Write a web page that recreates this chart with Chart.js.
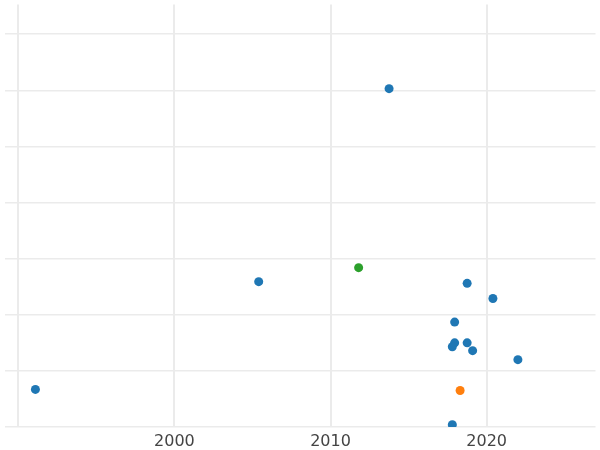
<!DOCTYPE html>
<html>
<head>
<script src="https://cdn.jsdelivr.net/npm/chart.js@4"></script>
<style>html,body{margin:0;padding:0;background:#fff}#wrap{width:600px;height:450px}</style>
</head>
<body>
<div id="wrap"><canvas id="c"></canvas></div>
<script>
const blueX = [2013.75, 2005.4, 2018.75, 2020.4, 2017.95, 2017.95, 2017.8, 2018.75, 2019.1, 2022.0, 1991.1, 2017.8];
const blueY = [6.03, 2.59, 2.56, 2.29, 1.87, 1.50, 1.43, 1.50, 1.36, 1.20, 0.67, 0.04];
const orangeX = [2018.3];
const orangeY = [0.65];
const greenX = [2011.8];
const greenY = [2.84];
const xTicks = [1990, 2000, 2010, 2020];
const yTicks = [0, 1, 2, 3, 4, 5, 6, 7];

const pts = (xs, ys) => xs.map((x, i) => ({x: x, y: ys[i]}));

new Chart(document.getElementById('c').getContext('2d'), {
    type: 'scatter',
    data: {
        datasets: [
            {data: pts(blueX, blueY), backgroundColor: '#1f77b4', borderColor: '#1f77b4'},
            {data: pts(orangeX, orangeY), backgroundColor: '#ff7f0e', borderColor: '#ff7f0e'},
            {data: pts(greenX, greenY), backgroundColor: '#2ca02c', borderColor: '#2ca02c'}
        ]
    },
    options: {
        responsive: true,
        maintainAspectRatio: false,
        animation: false,
        layout: {padding: {left: -5, right: -5, top: -5, bottom: 0}},
        elements: {point: {radius: 4.5, borderWidth: 0}},
        plugins: {legend: {display: false}, tooltip: {enabled: false}},
        scales: {
            x: {
                type: 'linear',
                min: 1989.12,
                max: 2026.97,
                afterBuildTicks: (s) => { s.ticks = xTicks.map(v => ({value: v})); },
                afterFit: (s) => { s.height = 23; },
                border: {display: false},
                grid: {color: '#ebebeb', lineWidth: 2, drawTicks: false},
                ticks: {
                    color: '#444',
                    padding: 5,
                    font: {family: 'DejaVu Sans', size: 16},
                    callback: (v) => v === 1990 ? '' : String(v)
                }
            },
            y: {
                min: 0,
                max: 7.53,
                afterBuildTicks: (s) => { s.ticks = yTicks.map(v => ({value: v})); },
                afterFit: (s) => { s.width = 0; },
                border: {display: false},
                grid: {color: '#ebebeb', lineWidth: 1.5, drawTicks: false},
                ticks: {display: false}
            }
        }
    }
});
</script>
</body>
</html>
